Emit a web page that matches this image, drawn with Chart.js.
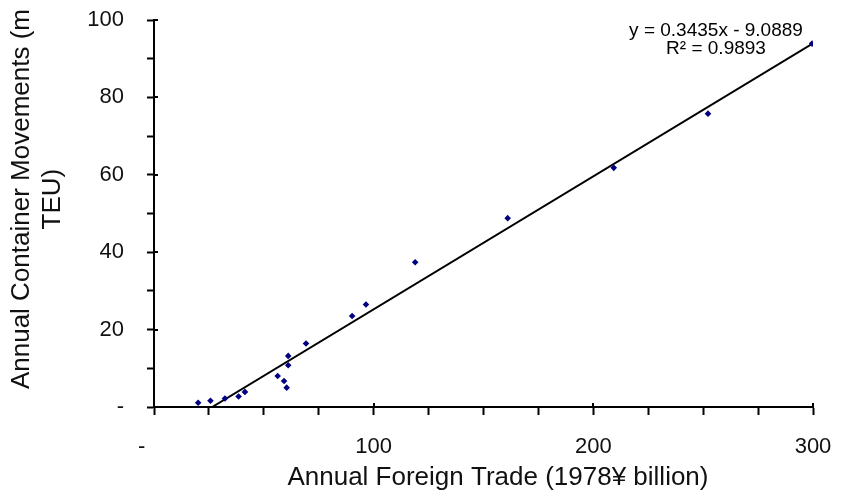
<!DOCTYPE html>
<html>
<head>
<meta charset="utf-8">
<script src="https://cdn.jsdelivr.net/npm/chart.js@4.4.1/dist/chart.umd.min.js"></script>
<style>
  body { margin: 0; background: #fff; }
  #wrap { width: 843px; height: 500px; position: relative; }
</style>
</head>
<body>
<div id="wrap"><canvas id="tradeChart"></canvas></div>
<script>
// 연간 대외무역 (x) 과 컨테이너 물동량 (y)
const tradeX = [20.1, 25.7, 32.3, 38.5, 41.4, 56.3, 59.2, 60.4, 61.1, 61.1, 69.2, 90.2, 96.5, 118.9, 161.0, 209.3, 252.2, 299.6];
const containerY = [1.1, 1.6, 2.2, 2.7, 3.9, 8.0, 6.7, 5.0, 10.8, 13.2, 16.4, 23.5, 26.5, 37.4, 48.8, 61.8, 75.8, 93.9];

// 추세선 끝점
const trendX = [26.5, 300];
const trendY = [0, 93.96];

const equationText = 'y = 0.3435x - 9.0889';
const r2Text = 'R² = 0.9893';

const xTickLabels = { 0: '-    ', 100: '100', 200: '200', 300: '300' };
const yTickLabels = { 0: '-', 20: '20', 40: '40', 60: '60', 80: '80', 100: '100' };

const points = tradeX.map((x, i) => ({ x: x, y: containerY[i] }));
const trendPoints = trendX.map((x, i) => ({ x: x, y: trendY[i] }));

// 주 눈금이 축을 가로지르도록 안쪽 부분 + 회귀식 텍스트
const extrasPlugin = {
    id: 'extras',
    afterDraw(chart) {
        const c = chart.ctx;
        const xs = chart.scales.x;
        const ys = chart.scales.y;
        const area = chart.chartArea;
        c.save();
        c.strokeStyle = '#000';
        c.lineWidth = 2;
        c.beginPath();
        [0, 100, 200, 300].forEach(v => {
            const px = Math.round(xs.getPixelForValue(v));
            c.moveTo(px, area.bottom);
            c.lineTo(px, area.bottom - 4);
        });
        [0, 20, 40, 60, 80, 100].forEach(v => {
            const py = Math.round(ys.getPixelForValue(v));
            c.moveTo(area.left, py);
            c.lineTo(area.left + 4, py);
        });
        c.stroke();

        c.fillStyle = '#000';
        c.font = '19px "Liberation Sans", Arial, sans-serif';
        c.textAlign = 'center';
        c.textBaseline = 'middle';
        c.fillText(equationText, 716, 31);
        c.fillText(r2Text, 716, 49);
        c.restore();
    }
};

const tickFont = { family: '"Liberation Sans", Arial, sans-serif', size: 22 };
const titleFont = { family: '"Liberation Sans", Arial, sans-serif', size: 26 };

new Chart(document.getElementById('tradeChart'), {
    type: 'scatter',
    data: {
        datasets: [{
            label: 'data',
            data: points,
            pointStyle: 'rectRot',
            pointRadius: 3.3,
            pointHoverRadius: 3.3,
            backgroundColor: '#000080',
            borderColor: '#000080',
            borderWidth: 0
        }, {
            label: 'trend',
            type: 'line',
            data: trendPoints,
            showLine: true,
            pointRadius: 0,
            borderColor: '#000',
            borderWidth: 2,
            fill: false
        }]
    },
    options: {
        responsive: true,
        maintainAspectRatio: false,
        animation: false,
        layout: { padding: { top: 20, right: 30, left: 0, bottom: 0 } },
        plugins: {
            legend: { display: false },
            tooltip: { enabled: false }
        },
        scales: {
            x: {
                type: 'linear',
                min: 0,
                max: 300,
                afterFit(scale) {
                    scale.height = 93;
                    scale.paddingLeft = 0;
                    scale.paddingRight = 0;
                },
                border: { display: true, color: '#000', width: 2 },
                grid: { drawOnChartArea: false, drawTicks: true, tickLength: 8, tickWidth: 2, tickColor: '#000' },
                ticks: {
                    stepSize: 25,
                    autoSkip: false,
                    maxRotation: 0,
                    padding: 19,
                    color: '#111',
                    font: tickFont,
                    callback: v => (xTickLabels[v] !== undefined ? xTickLabels[v] : '')
                },
                title: {
                    display: true,
                    text: '    Annual Foreign Trade (1978¥ billion)',
                    color: '#111',
                    font: titleFont,
                    padding: { top: 0, bottom: 7 }
                }
            },
            y: {
                type: 'linear',
                min: 0,
                max: 100,
                afterFit(scale) {
                    scale.width = 154;
                    scale.paddingTop = 0;
                    scale.paddingBottom = 0;
                },
                border: { display: true, color: '#000', width: 2 },
                grid: { drawOnChartArea: false, drawTicks: true, tickLength: 7, tickWidth: 2, tickColor: '#000' },
                ticks: {
                    stepSize: 10,
                    autoSkip: false,
                    padding: 23,
                    color: '#111',
                    font: tickFont,
                    callback: v => (yTickLabels[v] !== undefined ? yTickLabels[v] : '')
                },
                title: {
                    display: true,
                    text: ['    Annual Container Movements (m', '    TEU)'],
                    color: '#111',
                    font: titleFont,
                    padding: { top: 6, bottom: 0 }
                }
            }
        }
    },
    plugins: [extrasPlugin]
});
</script>
</body>
</html>
